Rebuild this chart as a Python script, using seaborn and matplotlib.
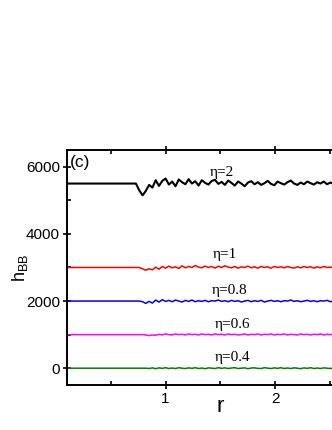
import numpy as np
import pandas as pd
import matplotlib
matplotlib.use("Agg")
import matplotlib.pyplot as plt
import seaborn as sns
from matplotlib.ticker import MultipleLocator

# shared r grid for every curve
r_vals = [0.10, 0.70, 0.73, 0.76, 0.79, 0.82, 0.85, 0.88, 0.91, 0.94,
          0.97, 1.00, 1.03, 1.06, 1.09, 1.12, 1.15, 1.18, 1.21, 1.24,
          1.27, 1.30, 1.33, 1.36, 1.39, 1.42, 1.45, 1.48, 1.51, 1.54,
          1.57, 1.60, 1.63, 1.66, 1.69, 1.72, 1.75, 1.78, 1.81, 1.84,
          1.87, 1.90, 1.93, 1.96, 1.99, 2.02, 2.05, 2.08, 2.11, 2.14,
          2.17, 2.20, 2.23, 2.26, 2.29, 2.32, 2.35, 2.38, 2.41, 2.44,
          2.47, 2.50, 2.53, 2.56, 2.59]

h_eta2 = [5500, 5500, 5500, 5300, 5150, 5280, 5460, 5380, 5600, 5430,
          5580, 5650, 5470, 5560, 5420, 5620, 5540, 5480, 5630, 5500,
          5570, 5440, 5600, 5520, 5470, 5580, 5610, 5490, 5550, 5460,
          5590, 5520, 5440, 5560, 5500, 5420, 5530, 5570, 5480, 5540,
          5460, 5510, 5580, 5490, 5450, 5560, 5510, 5470, 5540, 5590,
          5500, 5460, 5530, 5480, 5560, 5510, 5470, 5540, 5500, 5560,
          5480, 5530, 5490, 5550, 5500]

h_eta1 = [3000, 3000, 3000, 3000, 2960, 2920, 2960, 2930, 3010, 2950,
          3030, 2980, 3040, 2990, 3020, 2970, 3050, 2990, 3030, 3000,
          3060, 3010, 2990, 3040, 3000, 3030, 2980, 3040, 3000, 3050,
          3010, 2990, 3030, 2980, 3020, 3000, 3040, 2990, 3020, 2980,
          3030, 3000, 3020, 2980, 3030, 3000, 3020, 2990, 3030, 3000,
          2980, 3020, 2990, 3030, 3000, 3020, 2980, 3020, 2990, 3030,
          3000, 3010, 2990, 3020, 3000]

h_eta08 = [2000, 2000, 2000, 2000, 1980, 1930, 1990, 1940, 2030, 1970,
           2040, 1990, 2020, 1980, 2030, 2000, 1970, 2020, 1990, 2030,
           1980, 2010, 1990, 2020, 1980, 2010, 2000, 2030, 1990, 2010,
           1980, 2020, 1990, 2010, 1970, 2000, 2020, 1980, 2010, 1990,
           2020, 1970, 2000, 2020, 1990, 2010, 1980, 2010, 2000, 2030,
           1990, 2010, 1980, 2000, 2020, 1990, 2010, 1980, 2010, 2000,
           2020, 1980, 2010, 1990, 2010]

h_eta06 = [1000, 1000, 1000, 1000, 1000, 990, 970, 990, 980, 1010,
           990, 1020, 1000, 990, 1020, 1000, 1010, 990, 1020, 1000,
           1010, 990, 1020, 1000, 1010, 990, 1020, 1000, 1010, 990,
           1020, 1000, 1010, 990, 1000, 1020, 990, 1010, 1000, 1020,
           990, 1010, 1000, 1020, 990, 1010, 1000, 1020, 990, 1010,
           1000, 990, 1020, 1000, 1010, 990, 1010, 1000, 1020, 990,
           1010, 1000, 1010, 990, 1000]

h_eta04 = [0, 0, 0, 0, 0, 0, -10, 10, -15, 10,
           -5, 15, -10, 5, -10, 15, 0, -10, 10, -5,
           15, -10, 5, -15, 10, 0, -10, 15, -5, 10,
           -10, 5, 15, -10, 0, 10, -15, 5, 10, -5,
           -10, 15, 0, -10, 10, -5, 15, -10, 5, -10,
           10, 0, -15, 10, -5, 15, -10, 5, -10, 10,
           0, -10, 10, -5, 5]

eta_labels = ["\u03b7=2", "\u03b7=1", "\u03b7=0.8", "\u03b7=0.6", "\u03b7=0.4"]
series = [h_eta2, h_eta1, h_eta08, h_eta06, h_eta04]
colors = ["black", "#ff0000", "#0000ff", "#ff00ff", "#008000"]
widths = [1.5, 1.1, 1.1, 1.1, 1.1]
label_r = [1.51, 1.54, 1.58, 1.61, 1.61]
label_h = [5840, 3380, 2310, 1310, 310]

df = pd.DataFrame({"r": r_vals * len(series),
                   "h": sum(series, []),
                   "eta": np.repeat(eta_labels, len(r_vals))})

sns.set_style("ticks")
plt.rcParams["font.family"] = ["Liberation Sans", "DejaVu Sans"]
plt.rcParams["text.color"] = "black"
plt.rcParams["axes.labelcolor"] = "black"

fig = plt.figure(figsize=(3.32, 4.30), dpi=100)
ax = fig.add_axes([0.201, 0.1047, 0.923, 0.5465])

for lab, col, lw in zip(eta_labels, colors, widths):
    sns.lineplot(data=df[df["eta"] == lab], x="r", y="h", color=col,
                 linewidth=lw, estimator=None, sort=False, ax=ax)

for lab, x, y in zip(eta_labels, label_r, label_h):
    ax.text(x, y, lab, ha="center", va="center", fontsize=11,
            family=["Liberation Serif", "DejaVu Serif"])

ax.text(0.13, 6140, "(c)", ha="left", va="center", fontsize=12.5)

ax.set_xlim(0.1, 2.89)
ax.set_ylim(-500, 6500)
ax.xaxis.set_major_locator(MultipleLocator(1))
ax.xaxis.set_minor_locator(MultipleLocator(0.5))
ax.yaxis.set_major_locator(MultipleLocator(2000))
ax.yaxis.set_minor_locator(MultipleLocator(1000))
ax.tick_params(which="major", direction="inout", length=6, width=1.2,
               labelsize=11, colors="black", top=True, right=True, pad=2)
ax.tick_params(which="minor", direction="in", length=3, width=1.2,
               colors="black", top=True, right=True)
for sp in ax.spines.values():
    sp.set_linewidth(1.4)
    sp.set_color("black")

ax.set_xlabel("r", fontsize=16)
ax.xaxis.set_label_coords(0.5, -0.045)
ax.set_ylabel("h$_{\\mathregular{BB}}$", fontsize=13)
ax.yaxis.set_label_coords(-0.12, 0.5)

fig.savefig("out.png", dpi=100)
